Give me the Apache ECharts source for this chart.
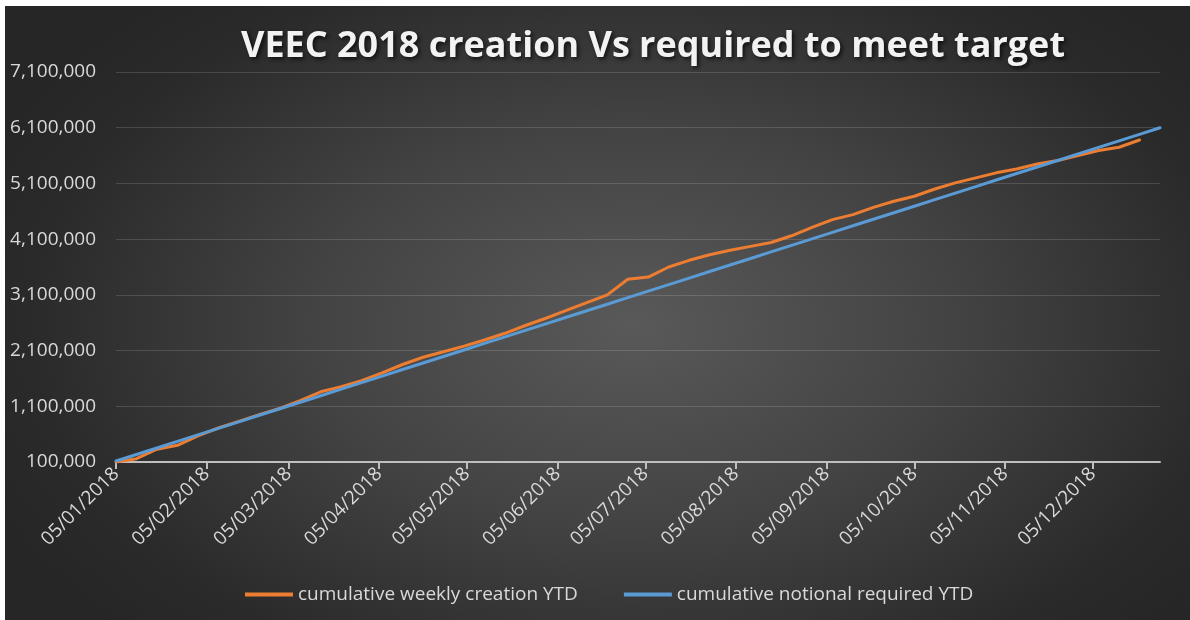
<!DOCTYPE html>
<html>
<head>
<meta charset="utf-8">
<script src="https://cdn.jsdelivr.net/npm/echarts@6/dist/echarts.min.js"></script>
<style>
html,body{margin:0;padding:0;background:#ffffff;width:1190px;height:620px;overflow:hidden;}
#c{position:absolute;left:5px;top:6px;width:1185px;height:614px;
  background:radial-gradient(ellipse 60% 72% at 53% 52%, #595959 0%, #434343 45%, #2a2a2a 85%, #262626 100%);}
</style>
</head>
<body>
<div id="c"></div>
<script>
// Week-ending dates (weekly, 2018)
const weeks = [
  '2018-01-05','2018-01-12','2018-01-19','2018-01-26',
  '2018-02-02','2018-02-09','2018-02-16','2018-02-23',
  '2018-03-02','2018-03-09','2018-03-16','2018-03-23','2018-03-30',
  '2018-04-06','2018-04-13','2018-04-20','2018-04-27',
  '2018-05-04','2018-05-11','2018-05-18','2018-05-25',
  '2018-06-01','2018-06-08','2018-06-15','2018-06-22','2018-06-29',
  '2018-07-06','2018-07-13','2018-07-20','2018-07-27',
  '2018-08-03','2018-08-10','2018-08-17','2018-08-24','2018-08-31',
  '2018-09-07','2018-09-14','2018-09-21','2018-09-28',
  '2018-10-05','2018-10-12','2018-10-19','2018-10-26',
  '2018-11-02','2018-11-09','2018-11-16','2018-11-23','2018-11-30',
  '2018-12-07','2018-12-14','2018-12-21','2018-12-28'
];

// cumulative weekly creation YTD (orange)
const creation = [
  100000, 160000, 330000, 400000, 570000, 710000, 830000, 950000,
  1060000, 1200000, 1360000, 1450000, 1560000, 1700000, 1850000, 1980000,
  2080000, 2180000, 2290000, 2410000, 2550000, 2680000, 2820000, 2960000,
  3100000, 3380000, 3420000, 3600000, 3720000, 3820000, 3900000, 3970000,
  4040000, 4160000, 4310000, 4450000, 4540000, 4670000, 4780000, 4870000,
  5000000, 5110000, 5200000, 5290000, 5360000, 5450000, 5510000, 5600000,
  5690000, 5750000, 5880000
];

// cumulative notional required YTD (blue)
const required = [
  117000, 235000, 352000, 470000, 587000, 704000, 821000, 939000,
  1056000, 1173000, 1290000, 1408000, 1525000, 1642000, 1760000, 1877000,
  1994000, 2111000, 2229000, 2346000, 2463000, 2580000, 2698000, 2815000,
  2932000, 3050000, 3167000, 3284000, 3401000, 3519000, 3636000, 3753000,
  3871000, 3988000, 4105000, 4222000, 4340000, 4457000, 4574000, 4691000,
  4809000, 4926000, 5043000, 5161000, 5278000, 5395000, 5512000, 5630000,
  5747000, 5864000, 5981000, 6100000
];

// X tick labels (dd/MM/yyyy)
const xTickLabels = [
  '05/01/2018','05/02/2018','05/03/2018','05/04/2018','05/05/2018','05/06/2018',
  '05/07/2018','05/08/2018','05/09/2018','05/10/2018','05/11/2018','05/12/2018'
];

const seriesNames = ['cumulative weekly creation YTD', 'cumulative notional required YTD'];

function parseDMY(s) {
  const p = s.split('/');
  return Date.UTC(+p[2], +p[1] - 1, +p[0]);
}
function parseYMD(s) {
  const p = s.split('-');
  return Date.UTC(+p[0], +p[1] - 1, +p[2]);
}
const xTickValues = xTickLabels.map(parseDMY);
function pad(n) { return (n < 10 ? '0' : '') + n; }

const chart = echarts.init(document.getElementById('c'), null, { renderer: 'canvas' });
const FONT = '"Open Sans", "Liberation Sans", sans-serif';

chart.setOption({
  backgroundColor: 'transparent',
  animation: false,
  title: {
    text: 'VEEC 2018 creation Vs required to meet target',
    left: 643,
    textAlign: 'center',
    top: 18,
    textStyle: {
      color: '#f2f2f2',
      fontFamily: FONT,
      fontWeight: 'bold',
      fontSize: 36,
      textShadowColor: 'rgba(0,0,0,0.7)',
      textShadowBlur: 4,
      textShadowOffsetX: 2,
      textShadowOffsetY: 2
    }
  },
  legend: {
    data: seriesNames,
    bottom: 11,
    left: 235,
    icon: 'rect',
    itemWidth: 48,
    itemHeight: 4,
    itemGap: 46,
    textStyle: { color: '#d9d9d9', fontFamily: FONT, fontSize: 19 }
  },
  grid: { left: 111, right: 30, top: 66, bottom: 158, containLabel: false },
  xAxis: {
    type: 'value',
    min: parseYMD(weeks[0]),
    max: parseYMD(weeks[weeks.length - 1]),
    axisLine: { show: true, onZero: false, lineStyle: { color: '#bfbfbf', width: 2 } },
    axisTick: { show: true, customValues: xTickValues, length: 7, lineStyle: { color: '#bfbfbf', width: 2 } },
    axisLabel: {
      customValues: xTickValues,
      rotate: 45,
      margin: 9,
      color: '#d9d9d9',
      fontFamily: FONT,
      fontSize: 19,
      formatter: function (v) {
        const d = new Date(v);
        return pad(d.getUTCDate()) + '/' + pad(d.getUTCMonth() + 1) + '/' + d.getUTCFullYear();
      }
    },
    splitLine: { show: false }
  },
  yAxis: {
    type: 'value',
    min: 100000,
    max: 7100000,
    interval: 1000000,
    axisLine: { show: false },
    axisTick: { show: false },
    axisLabel: {
      color: '#d9d9d9',
      fontFamily: FONT,
      fontSize: 19,
      margin: 20,
      formatter: function (v) { return v.toLocaleString('en-US'); }
    },
    splitLine: { lineStyle: { color: 'rgba(255,255,255,0.14)', width: 1 } }
  },
  series: [
    {
      name: seriesNames[0],
      type: 'line',
      showSymbol: false,
      symbol: 'none',
      data: creation.map((v, i) => [parseYMD(weeks[i]), v]),
      lineStyle: { color: '#ED7D31', width: 3, join: 'round', cap: 'round' },
      itemStyle: { color: '#ED7D31' },
      z: 2
    },
    {
      name: seriesNames[1],
      type: 'line',
      showSymbol: false,
      symbol: 'none',
      data: required.map((v, i) => [parseYMD(weeks[i]), v]),
      lineStyle: { color: '#5B9BD5', width: 3, join: 'round', cap: 'round' },
      itemStyle: { color: '#5B9BD5' },
      z: 3
    }
  ]
});
</script>
</body>
</html>
